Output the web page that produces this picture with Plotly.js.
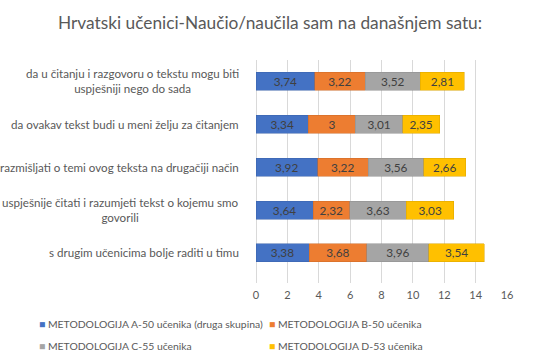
<!DOCTYPE html>
<html><head><meta charset="utf-8">
<script src="https://cdn.plot.ly/plotly-3.0.1.min.js"></script>
<style>html,body{margin:0;padding:0;background:#fff}#chart{width:540px;height:362px}</style>
</head><body><div id="chart"></div>
<script>
const categories = [
  "da u čitanju i razgovoru o tekstu mogu biti<br>uspješniji nego do sada",
  "da ovakav tekst budi u meni želju za čitanjem",
  "razmišljati o temi ovog teksta na drugačiji način",
  "uspješnije čitati i razumjeti tekst o kojemu smo<br>govorili",
  "s drugim učenicima bolje raditi u timu"
];
const seriesNames = [
  "METODOLOGIJA A-50 učenika (druga skupina)",
  "METODOLOGIJA B-50 učenika",
  "METODOLOGIJA C-55 učenika",
  "METODOLOGIJA D-53 učenika"
];
const seriesA = [3.74, 3.34, 3.92, 3.64, 3.38];
const seriesB = [3.22, 3, 3.22, 2.32, 3.68];
const seriesC = [3.52, 3.01, 3.56, 3.63, 3.96];
const seriesD = [2.81, 2.35, 2.66, 3.03, 3.54];
const xTicks = [0, 2, 4, 6, 8, 10, 12, 14, 16];

const colors = ["#4472C4", "#ED7D31", "#A5A5A5", "#FFC000"];
const edge = ["#3A62AA", "#CB6A28", "#8E8E8E", "#D9A400"];
const allSeries = [seriesA, seriesB, seriesC, seriesD];
const font = "Lato, 'Open Sans', sans-serif";

const traces = allSeries.map((vals, i) => ({
  type: "bar",
  orientation: "h",
  name: seriesNames[i],
  x: vals,
  y: categories,
  width: 0.42,
  marker: {color: colors[i], line: {color: edge[i], width: 0.5}},
  text: vals.map(v => String(v).replace(".", ",")),
  textposition: "inside",
  insidetextanchor: "middle",
  constraintext: "none",
  textangle: 0,
  textfont: {family: font, size: 11.8, color: "#404040"},
  hoverinfo: "none",
  showlegend: false
}));

const annotations = categories.map(c => ({
  xref: "paper", yref: "y", x: 0, y: c, xanchor: "right", xshift: -15,
  text: c, showarrow: false, align: "center",
  font: {family: font, size: 11.6, color: "#595959"}
}));

// legend drawn as text entries in a 2x2 grid
const legendPos = [[-0.8725, -0.184], [0.0435, -0.184], [-0.8725, -0.282], [0.0435, -0.282]];
seriesNames.forEach((n, i) => {
  annotations.push({
    xref: "paper", yref: "paper", x: legendPos[i][0], y: legendPos[i][1],
    xanchor: "left", yanchor: "middle", showarrow: false, align: "left",
    text: "<span style='color:" + colors[i] + "'>■</span> " + n,
    font: {family: font, size: 10.4, color: "#595959"}
  });
});

const layout = {
  width: 540, height: 362,
  margin: {l: 256, r: 33, t: 60, b: 79},
  paper_bgcolor: "#fff", plot_bgcolor: "#fff",
  barmode: "stack",
  title: {text: "Hrvatski učenici-Naučio/naučila sam na današnjem satu:",
    font: {family: font, size: 17.3, color: "#595959"},
    x: 0.5, xanchor: "center", y: 0.936, yanchor: "middle"},
  xaxis: {range: [0, 16], tickvals: xTicks, ticktext: xTicks.map(String),
    showgrid: true, gridcolor: "#D9D9D9", gridwidth: 1, zeroline: true, zerolinecolor: "#D9D9D9",
    showline: false, ticks: "", ticklabelstandoff: 4,
    tickfont: {family: font, size: 11, color: "#595959"}},
  yaxis: {type: "category", range: [4.7, -0.5], showticklabels: false, showgrid: false,
    zeroline: false, showline: false, ticks: ""},
  showlegend: false,
  annotations: annotations
};

Plotly.newPlot("chart", traces, layout, {displayModeBar: false, staticPlot: true});
</script></body></html>
